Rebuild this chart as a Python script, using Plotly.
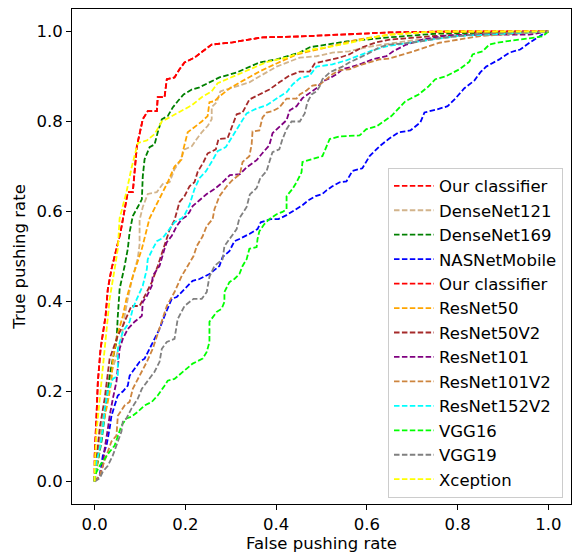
import plotly.graph_objects as go

# ROC curves (false pushing rate, true pushing rate)
our_fpr = [0, 0, 0.004, 0.007, 0.013, 0.024, 0.029, 0.037, 0.048, 0.057, 0.073, 0.084, 0.093, 0.106, 0.117, 0.137, 0.139, 0.154, 0.159, 0.176, 0.187, 0.198, 0.220, 0.238, 0.258, 0.304, 0.370, 0.452, 0.540, 0.650, 0.782, 1]
our_tpr = [0, 0.058, 0.146, 0.222, 0.295, 0.368, 0.428, 0.472, 0.517, 0.554, 0.643, 0.643, 0.745, 0.805, 0.823, 0.823, 0.854, 0.854, 0.894, 0.898, 0.916, 0.931, 0.942, 0.956, 0.971, 0.976, 0.987, 0.989, 0.993, 0.998, 1.0, 1]

d121_fpr = [0, 0.004, 0.011, 0.022, 0.033, 0.059, 0.066, 0.073, 0.081, 0.095, 0.099, 0.099, 0.106, 0.117, 0.137, 0.150, 0.165, 0.176, 0.187, 0.198, 0.214, 0.225, 0.236, 0.249, 0.258, 0.258, 0.269, 0.277, 0.304, 0.341, 0.363, 0.401, 0.452, 0.489, 0.524, 0.561, 0.599, 0.634, 0.70, 0.775, 0.85, 1]
d121_tpr = [0, 0.040, 0.095, 0.162, 0.228, 0.317, 0.368, 0.406, 0.443, 0.496, 0.527, 0.581, 0.610, 0.639, 0.643, 0.661, 0.665, 0.694, 0.710, 0.738, 0.745, 0.761, 0.776, 0.790, 0.805, 0.832, 0.843, 0.867, 0.876, 0.887, 0.900, 0.922, 0.942, 0.945, 0.953, 0.956, 0.965, 0.971, 0.98, 0.987, 0.995, 1]

d169_fpr = [0, 0, 0.007, 0.015, 0.022, 0.029, 0.033, 0.040, 0.048, 0.051, 0.055, 0.066, 0.073, 0.077, 0.084, 0.095, 0.104, 0.106, 0.110, 0.121, 0.132, 0.139, 0.148, 0.161, 0.172, 0.183, 0.196, 0.214, 0.231, 0.253, 0.275, 0.313, 0.363, 0.401, 0.452, 0.474, 0.511, 0.555, 0.599, 0.650, 0.75, 1]
d169_tpr = [0, 0.013, 0.044, 0.089, 0.146, 0.206, 0.235, 0.273, 0.310, 0.368, 0.428, 0.479, 0.517, 0.554, 0.590, 0.610, 0.627, 0.678, 0.716, 0.743, 0.749, 0.776, 0.805, 0.812, 0.831, 0.845, 0.860, 0.871, 0.876, 0.887, 0.898, 0.909, 0.931, 0.938, 0.953, 0.965, 0.971, 0.978, 0.982, 0.987, 0.995, 1]

nas_fpr = [0, 0.011, 0.018, 0.026, 0.033, 0.037, 0.044, 0.051, 0.062, 0.073, 0.077, 0.088, 0.099, 0.110, 0.121, 0.132, 0.143, 0.154, 0.161, 0.170, 0.181, 0.192, 0.205, 0.216, 0.231, 0.253, 0.275, 0.282, 0.297, 0.308, 0.319, 0.341, 0.359, 0.366, 0.388, 0.405, 0.423, 0.443, 0.458, 0.471, 0.487, 0.502, 0.511, 0.524, 0.540, 0.555, 0.568, 0.590, 0.606, 0.628, 0.648, 0.670, 0.696, 0.718, 0.727, 0.755, 0.778, 0.795, 0.815, 0.837, 0.850, 0.863, 0.892, 0.914, 0.938, 0.960, 0.976, 0.991, 1]
nas_tpr = [0, 0.013, 0.058, 0.080, 0.118, 0.146, 0.169, 0.191, 0.200, 0.213, 0.235, 0.251, 0.266, 0.273, 0.295, 0.317, 0.339, 0.368, 0.384, 0.406, 0.410, 0.421, 0.435, 0.446, 0.450, 0.461, 0.479, 0.499, 0.512, 0.534, 0.539, 0.550, 0.561, 0.576, 0.583, 0.583, 0.592, 0.605, 0.614, 0.625, 0.634, 0.639, 0.647, 0.656, 0.665, 0.667, 0.690, 0.696, 0.723, 0.745, 0.761, 0.776, 0.780, 0.798, 0.820, 0.827, 0.834, 0.851, 0.874, 0.891, 0.909, 0.922, 0.938, 0.953, 0.960, 0.976, 0.987, 0.996, 1]

r50_fpr = [0, 0.004, 0.011, 0.018, 0.029, 0.037, 0.040, 0.048, 0.062, 0.070, 0.084, 0.104, 0.121, 0.132, 0.150, 0.161, 0.176, 0.192, 0.194, 0.205, 0.214, 0.225, 0.236, 0.249, 0.253, 0.264, 0.275, 0.301, 0.335, 0.363, 0.401, 0.445, 0.50, 0.58, 0.65, 0.75, 1]
r50_tpr = [0, 0.029, 0.073, 0.124, 0.177, 0.222, 0.273, 0.317, 0.368, 0.406, 0.456, 0.517, 0.585, 0.606, 0.643, 0.665, 0.700, 0.716, 0.732, 0.776, 0.783, 0.790, 0.800, 0.812, 0.843, 0.845, 0.856, 0.876, 0.896, 0.911, 0.929, 0.949, 0.962, 0.982, 0.993, 1.0, 1]

r50v2_fpr = [0, 0.004, 0.011, 0.022, 0.033, 0.051, 0.062, 0.081, 0.099, 0.126, 0.139, 0.154, 0.165, 0.176, 0.187, 0.198, 0.209, 0.220, 0.227, 0.240, 0.249, 0.267, 0.273, 0.293, 0.304, 0.313, 0.326, 0.341, 0.363, 0.385, 0.407, 0.429, 0.452, 0.474, 0.485, 0.518, 0.540, 0.561, 0.590, 0.621, 0.650, 0.75, 1]
r50v2_tpr = [0, 0.051, 0.118, 0.184, 0.273, 0.324, 0.346, 0.390, 0.390, 0.443, 0.479, 0.523, 0.559, 0.581, 0.621, 0.634, 0.656, 0.665, 0.688, 0.710, 0.729, 0.738, 0.761, 0.763, 0.790, 0.816, 0.820, 0.849, 0.860, 0.871, 0.887, 0.902, 0.911, 0.911, 0.929, 0.936, 0.942, 0.949, 0.965, 0.976, 0.982, 0.99, 1]

r101_fpr = [0, 0.011, 0.018, 0.022, 0.029, 0.033, 0.040, 0.048, 0.055, 0.062, 0.073, 0.088, 0.104, 0.106, 0.115, 0.126, 0.128, 0.143, 0.154, 0.159, 0.170, 0.181, 0.192, 0.203, 0.209, 0.216, 0.231, 0.247, 0.264, 0.280, 0.298, 0.320, 0.335, 0.357, 0.370, 0.385, 0.392, 0.407, 0.423, 0.430, 0.445, 0.458, 0.474, 0.489, 0.502, 0.518, 0.533, 0.546, 0.568, 0.590, 0.612, 0.643, 0.658, 0.687, 0.722, 0.775, 0.848, 0.958, 1]
r101_tpr = [0, 0.013, 0.035, 0.073, 0.117, 0.146, 0.184, 0.222, 0.295, 0.317, 0.339, 0.355, 0.368, 0.399, 0.412, 0.435, 0.457, 0.479, 0.517, 0.532, 0.546, 0.568, 0.583, 0.590, 0.599, 0.612, 0.625, 0.639, 0.650, 0.663, 0.681, 0.683, 0.698, 0.714, 0.730, 0.747, 0.774, 0.787, 0.803, 0.825, 0.834, 0.852, 0.863, 0.874, 0.889, 0.896, 0.905, 0.916, 0.922, 0.929, 0.938, 0.945, 0.956, 0.971, 0.982, 0.991, 0.993, 0.993, 1]

r101v2_fpr = [0, 0.011, 0.018, 0.026, 0.037, 0.048, 0.051, 0.066, 0.077, 0.084, 0.099, 0.115, 0.128, 0.143, 0.159, 0.176, 0.192, 0.205, 0.218, 0.225, 0.238, 0.247, 0.260, 0.264, 0.275, 0.291, 0.304, 0.320, 0.326, 0.341, 0.346, 0.348, 0.363, 0.370, 0.379, 0.392, 0.407, 0.423, 0.445, 0.452, 0.467, 0.480, 0.496, 0.511, 0.524, 0.540, 0.561, 0.584, 0.606, 0.628, 0.650, 0.70, 0.76, 0.85, 1]
r101v2_tpr = [0, 0.013, 0.035, 0.058, 0.089, 0.102, 0.146, 0.169, 0.177, 0.206, 0.235, 0.266, 0.295, 0.339, 0.390, 0.421, 0.457, 0.479, 0.501, 0.523, 0.545, 0.568, 0.583, 0.605, 0.634, 0.656, 0.670, 0.683, 0.710, 0.723, 0.749, 0.778, 0.780, 0.809, 0.820, 0.823, 0.831, 0.851, 0.851, 0.860, 0.869, 0.880, 0.882, 0.894, 0.905, 0.914, 0.916, 0.925, 0.931, 0.938, 0.940, 0.955, 0.975, 0.99, 1]

r152v2_fpr = [0, 0.004, 0.011, 0.018, 0.022, 0.029, 0.040, 0.051, 0.051, 0.062, 0.077, 0.084, 0.093, 0.106, 0.115, 0.117, 0.128, 0.137, 0.150, 0.159, 0.176, 0.192, 0.198, 0.209, 0.214, 0.220, 0.231, 0.245, 0.260, 0.271, 0.289, 0.304, 0.317, 0.335, 0.357, 0.379, 0.401, 0.423, 0.436, 0.452, 0.474, 0.489, 0.524, 0.555, 0.584, 0.612, 0.643, 0.70, 0.80, 1]
r152v2_tpr = [0, 0.044, 0.073, 0.118, 0.162, 0.200, 0.228, 0.235, 0.295, 0.333, 0.355, 0.384, 0.406, 0.435, 0.472, 0.494, 0.517, 0.534, 0.541, 0.554, 0.576, 0.585, 0.592, 0.614, 0.630, 0.650, 0.674, 0.689, 0.714, 0.734, 0.743, 0.767, 0.789, 0.818, 0.829, 0.836, 0.851, 0.865, 0.882, 0.896, 0.902, 0.922, 0.927, 0.936, 0.947, 0.958, 0.967, 0.976, 0.99, 1]

vgg16_fpr = [0, 0, 0.011, 0.022, 0.033, 0.044, 0.051, 0.059, 0.070, 0.081, 0.095, 0.110, 0.126, 0.139, 0.154, 0.161, 0.176, 0.194, 0.216, 0.238, 0.247, 0.253, 0.253, 0.269, 0.280, 0.286, 0.286, 0.297, 0.308, 0.319, 0.326, 0.335, 0.341, 0.357, 0.359, 0.363, 0.374, 0.385, 0.401, 0.414, 0.423, 0.423, 0.436, 0.445, 0.456, 0.458, 0.480, 0.502, 0.518, 0.540, 0.584, 0.599, 0.621, 0.654, 0.685, 0.714, 0.736, 0.751, 0.773, 0.804, 0.826, 0.833, 0.855, 0.870, 0.892, 0.951, 0.987, 1]
vgg16_tpr = [0, 0.013, 0.035, 0.051, 0.066, 0.080, 0.102, 0.124, 0.140, 0.144, 0.155, 0.169, 0.177, 0.191, 0.213, 0.224, 0.228, 0.244, 0.262, 0.273, 0.288, 0.310, 0.355, 0.377, 0.384, 0.399, 0.421, 0.443, 0.450, 0.461, 0.479, 0.494, 0.517, 0.521, 0.539, 0.556, 0.572, 0.583, 0.594, 0.599, 0.605, 0.634, 0.650, 0.665, 0.687, 0.710, 0.716, 0.723, 0.761, 0.767, 0.769, 0.783, 0.789, 0.812, 0.845, 0.860, 0.878, 0.894, 0.900, 0.916, 0.933, 0.949, 0.956, 0.971, 0.976, 0.985, 0.989, 1]

vgg19_fpr = [0, 0.011, 0.018, 0.029, 0.040, 0.051, 0.059, 0.062, 0.070, 0.081, 0.095, 0.104, 0.115, 0.132, 0.143, 0.148, 0.159, 0.176, 0.183, 0.198, 0.218, 0.236, 0.247, 0.253, 0.264, 0.282, 0.286, 0.297, 0.313, 0.319, 0.335, 0.342, 0.357, 0.365, 0.379, 0.385, 0.392, 0.407, 0.414, 0.423, 0.434, 0.452, 0.463, 0.469, 0.478, 0.489, 0.496, 0.502, 0.518, 0.533, 0.546, 0.561, 0.577, 0.599, 0.628, 0.650, 0.70, 0.76, 0.85, 1]
vgg19_tpr = [0, 0.007, 0.022, 0.035, 0.058, 0.089, 0.111, 0.133, 0.140, 0.162, 0.184, 0.206, 0.222, 0.244, 0.266, 0.295, 0.310, 0.317, 0.361, 0.390, 0.406, 0.406, 0.421, 0.455, 0.479, 0.494, 0.523, 0.539, 0.561, 0.585, 0.610, 0.638, 0.652, 0.674, 0.690, 0.710, 0.732, 0.738, 0.761, 0.783, 0.800, 0.800, 0.818, 0.843, 0.860, 0.867, 0.878, 0.894, 0.909, 0.916, 0.922, 0.931, 0.938, 0.949, 0.965, 0.971, 0.975, 0.985, 0.995, 1]

xcep_fpr = [0, 0, 0.004, 0.011, 0.018, 0.026, 0.033, 0.044, 0.051, 0.055, 0.062, 0.070, 0.081, 0.088, 0.095, 0.115, 0.132, 0.148, 0.170, 0.192, 0.214, 0.236, 0.258, 0.271, 0.302, 0.341, 0.379, 0.423, 0.452, 0.480, 0.524, 0.577, 0.612, 0.650, 0.75, 1]
xcep_tpr = [0, 0.036, 0.111, 0.184, 0.257, 0.333, 0.406, 0.472, 0.517, 0.585, 0.614, 0.643, 0.696, 0.725, 0.752, 0.758, 0.772, 0.800, 0.812, 0.823, 0.836, 0.854, 0.867, 0.885, 0.898, 0.916, 0.932, 0.942, 0.953, 0.960, 0.967, 0.978, 0.987, 0.993, 1.0, 1]

names = ["Our classifier", "DenseNet121", "DenseNet169", "NASNetMobile", "Our classifier",
         "ResNet50", "ResNet50V2", "ResNet101", "ResNet101V2", "ResNet152V2",
         "VGG16", "VGG19", "Xception"]
colors = ["#ff0000", "#d2b48c", "#008000", "#0000ff", "#ff0000",
          "#ffa500", "#a52a2a", "#800080", "#cd853f", "#00ffff",
          "#00ff00", "#808080", "#ffff00"]
curves = [(our_fpr, our_tpr), (d121_fpr, d121_tpr), (d169_fpr, d169_tpr), (nas_fpr, nas_tpr),
          (our_fpr, our_tpr), (r50_fpr, r50_tpr), (r50v2_fpr, r50v2_tpr), (r101_fpr, r101_tpr),
          (r101v2_fpr, r101v2_tpr), (r152v2_fpr, r152v2_tpr), (vgg16_fpr, vgg16_tpr),
          (vgg19_fpr, vgg19_tpr), (xcep_fpr, xcep_tpr)]

FONT = "DejaVu Sans"
fig = go.Figure()
for name, col, (fx, ty) in zip(names, colors, curves):
    fig.add_trace(go.Scatter(x=fx, y=ty, mode="lines", name=name,
                             line=dict(color=col, width=1.8, dash="5.5px,2.4px")))

ticks = [0.0, 0.2, 0.4, 0.6, 0.8, 1.0]
axis_common = dict(range=[-0.05, 1.05], tickvals=ticks, tickformat=".1f",
                   ticks="outside", ticklen=5, tickwidth=1, tickcolor="black",
                   showline=True, linecolor="black", linewidth=1, mirror=True,
                   showgrid=False, zeroline=False,
                   tickfont=dict(family=FONT, size=16.5, color="black"))
fig.update_layout(
    width=576, height=553,
    margin=dict(l=72, r=4, t=9, b=46),
    paper_bgcolor="white", plot_bgcolor="white",
    font=dict(family=FONT, size=16.5, color="black"),
    xaxis=dict(title=dict(text="False pushing rate", font=dict(family=FONT, size=16.5), standoff=4), **axis_common),
    yaxis=dict(title=dict(text="True pushing rate", font=dict(family=FONT, size=16.5), standoff=6), **axis_common),
    legend=dict(x=0.984, y=0.013, xanchor="right", yanchor="bottom",
                bgcolor="rgba(255,255,255,0.8)", bordercolor="#cccccc", borderwidth=1,
                font=dict(family=FONT, size=16.5, color="black"), itemwidth=40,
                tracegroupgap=0),
    showlegend=True,
)
fig.write_html("out.html")
